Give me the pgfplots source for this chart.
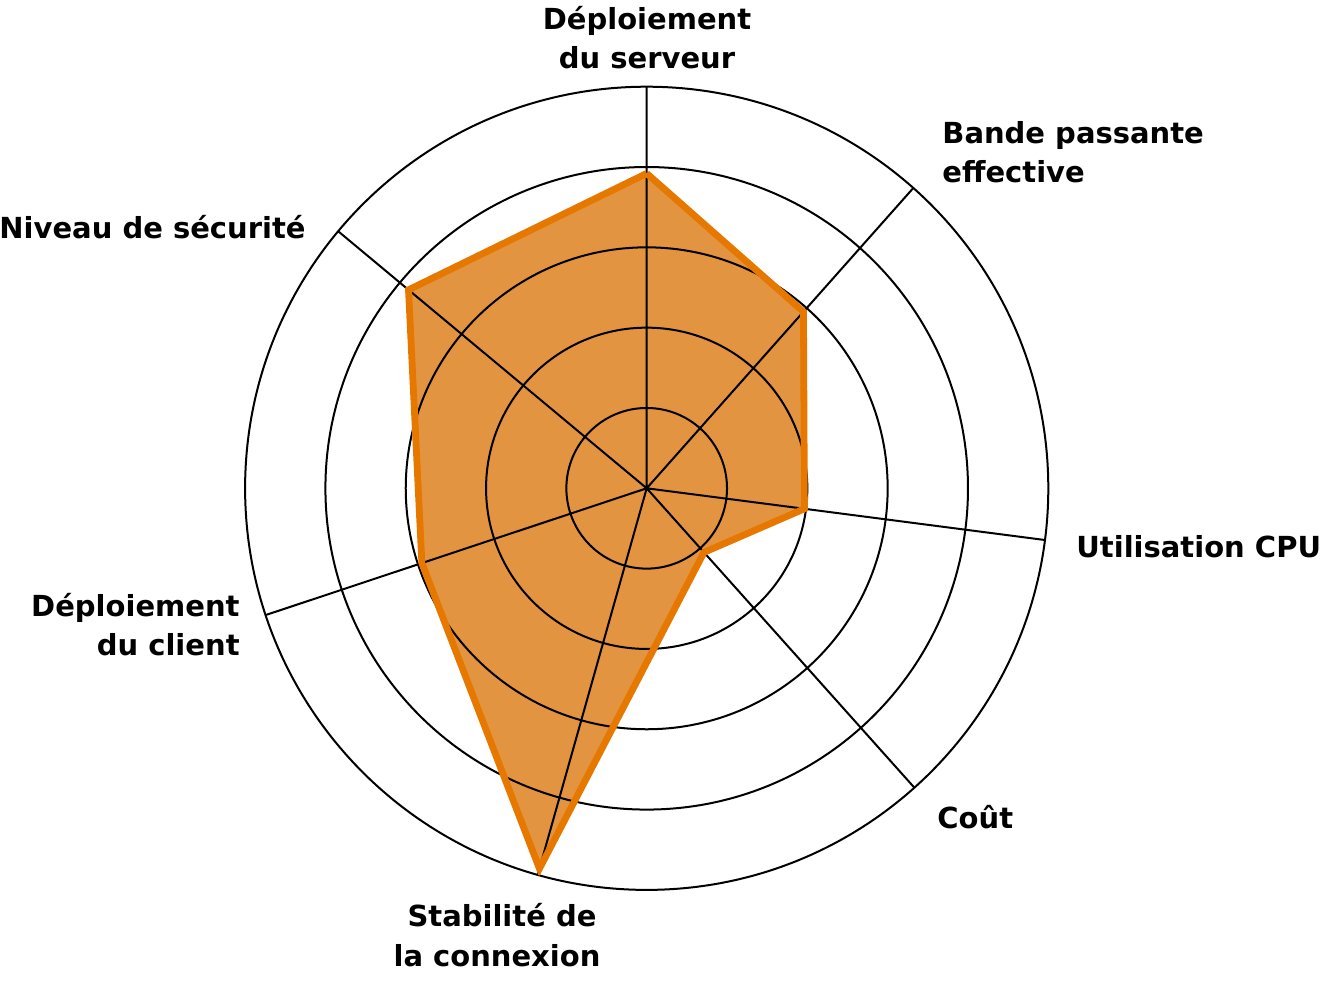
\documentclass[border=0pt]{standalone}
\usepackage{fontspec}
\setmainfont{DejaVu Sans}
\usepackage{pgfplots}
\pgfplotsset{compat=1.18}
\usepgfplotslibrary{polar}
\definecolor{lineorange}{RGB}{230,120,0}
\definecolor{fillorange}{RGB}{227,148,64}
\begin{document}
\begin{tikzpicture}
\begin{polaraxis}[
  scale only axis,
  width=401.6pt,
  ymin=0, ymax=5,
  ytick={1,2,3,4}, yticklabels={},
  xtick={90,48.4,352.6,311.8,254.25,198.4,140.2}, xticklabels={},
  xmajorgrids, ymajorgrids,
  major tick length=0pt,
  major grid style={black, line width=1pt},
  x axis line style={black, line width=1pt},
  y axis line style={draw=none},
  set layers,
]
\addplot[draw=none, fill=fillorange, on layer=axis background] coordinates {
  (90,3.92) (48.4,2.94) (352.6,1.98) (311.8,1.07) (254.25,4.92) (198.4,2.95) (140.2,3.86)
};
\addplot[lineorange, line width=3.4pt, line join=miter, no marks] coordinates {
  (90,3.92) (48.4,2.94) (352.6,1.98) (311.8,1.07) (254.25,4.92) (198.4,2.95) (140.2,3.86) (90,3.92)
};
\coordinate (C) at (axis cs:0,0);
\end{polaraxis}
\begin{scope}[shift={(C)}, x=0.5pt, y=0.5pt, every node/.style={font=\fontsize{14.5}{17.4}\selectfont\bfseries, inner sep=0pt}]
\node[anchor=base] at (0.3,459) {Déploiement};
\node[anchor=base] at (0.3,419.5) {du serveur};
\node[anchor=base west] at (295.3,344.8) {Bande passante};
\node[anchor=base west] at (295.3,305.3) {effective};
\node[anchor=base west] at (429.3,-68.7) {Utilisation CPU};
\node[anchor=base west] at (290.3,-339.7) {Coût};
\node[anchor=base] at (-144.7,-438.2) {Stabilité de};
\node[anchor=base] at (-149.7,-477.7) {la connexion};
\node[anchor=base east] at (-406.7,-127.7) {Déploiement};
\node[anchor=base east] at (-406.7,-167.2) {du client};
\node[anchor=base east] at (-340.7,249.3) {Niveau de sécurité};
\pgfresetboundingbox
\path (-646.7,488.3) rectangle (675.3,-497.7);
\end{scope}
\end{tikzpicture}
\end{document}
